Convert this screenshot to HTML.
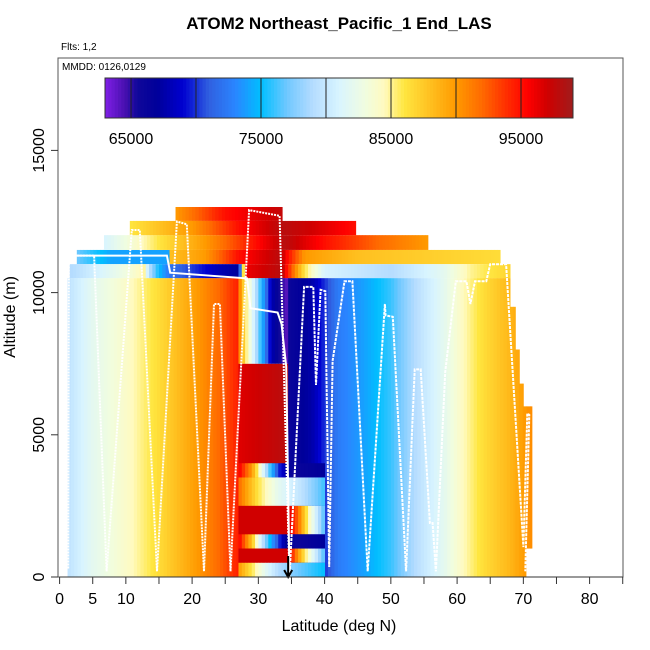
<!DOCTYPE html>
<html><head><meta charset="utf-8"><style>
body{margin:0;background:#fff}
svg{display:block;font-family:"Liberation Sans",sans-serif}
</style></head><body>
<svg id="chart" width="650" height="650" viewBox="0 0 650 650" xmlns="http://www.w3.org/2000/svg">
<rect width="650" height="650" fill="#fff"/>
<text x="339" y="29" text-anchor="middle" font-size="17" font-weight="bold">ATOM2 Northeast_Pacific_1 End_LAS</text>
<text x="61" y="50" font-size="10">Flts: 1,2</text>
<g id="heat"></g>
<g id="tracks"></g>
<rect x="58" y="58" width="565" height="519" fill="none" stroke="#555" stroke-width="1"/>
<text x="62" y="70" font-size="10">MMDD: 0126,0129</text>
<g id="cbar"></g>
<g id="axes"></g>
<text x="339" y="631" text-anchor="middle" font-size="16">Latitude (deg N)</text>
<text transform="translate(15,317) rotate(-90)" text-anchor="middle" font-size="16">Altitude (m)</text>
</svg>
<script>
// colour scale
const paletteVals = [63000,64500,65500,67000,69000,71000,73000,75000,77000,79000,81000,83000,84500,86000,88000,90000,92000,94000,95500,97000,99000];
const paletteCols = ["#7f1fe6","#4a10b0","#10089a","#00009a","#0000d0","#3060e0","#2a85ff","#00bfff","#70c8ff","#b5dcff","#d8f4ff","#f0fde0","#fffabf","#ffe640","#ffc020","#ff9a00","#ff6a00","#ff2a00","#ff0000","#d00000","#a01c1c"];
// x ticks / y ticks
const xTicks = [0,5,10,15,20,25,30,35,40,45,50,55,60,65,70,75,80,85];
const xTickLabels = ["0","5","10","","20","","30","","40","","50","","60","","70","","80",""];
const yTicks = [0,5000,10000,15000];
const cbarLines = [65000,70000,75000,80000,85000,90000,95000];
const cbarLabels = [65000,75000,85000,95000];
// heatmap bands (drawn in order; later overrides)
const bandLat0 = [1.2, 27, 27, 34.5, 68, 68.8, 69.4, 70, 70, 2.6, 6.7, 10.6, 17.5, 1.5, 27, 27, 27, 27, 27, 27, 27];
const bandLat1 = [27, 34.5, 34.5, 68, 68.8, 69.4, 70, 71.3, 70.4, 66.5, 55.6, 44.7, 33.6, 68, 40, 40, 40, 40, 40, 40, 40];
const bandAlt0 = [0, 0, 7500, 0, 0, 0, 0, 1000, 0, 11000, 11500, 12020, 12520, 10510, 3500, 2500, 1500, 1000, 500, 0, 0];
const bandAlt1 = [10510, 7500, 10510, 10510, 9500, 8000, 6800, 6000, 1000, 11500, 12020, 12520, 13010, 11000, 4000, 3500, 2500, 1500, 1000, 500, 0];
const bandKnotLats = [
 [1.2,5,10,15,20,24,27],
 [27,34.5],
 [27,28,29.5,30.5,32,33.5,34.5],
 [34.5,38,40,42,46,50,53,55,58,61,64,68,71],
 [34.5,68,71],[34.5,68,71],[34.5,68,71],[34.5,68,71],[34.5,68,71],
 [2.6,8,16.6,16.7,22,27,33.6,34,37,45,66.5],
 [6.7,15,22,28,34,40,48,55.6],
 [10.6,20,27,33.6,38,44.7],
 [17.5,25,33.6],
 [2,10,13,13.3,15,16.7,24,27,27.5,28,33.6,34,37,40,50,58,62,68],
 [27,29,31,33,35,40],
 [27,30,33,36,40],
 [27,34.5,36,37.5,40],
 [27,29,30.5,32,34,36,40],
 [27,34.5,36,37.5,40],
 [27,29,31,33,36,40],
 [27,40]
];
const bandKnotVals = [
 [79500,82000,84000,86500,89500,92000,94500],
 [96500,98000],
 [92000,86000,80000,75000,68000,65000,64000],
 [66000,67500,70000,72500,74000,76000,78500,80000,82000,84500,86500,88500,90500],
 [66000,88500,90500],[66000,88500,90500],[66000,88500,90500],[66000,88500,90500],[66000,88500,90500],
 [77000,74000,74000,88000,90000,95000,98000,96000,90000,88000,86500],
 [81000,86000,90000,94000,98000,95000,92000,90000],
 [86000,90000,95000,98000,97000,95000],
 [90000,95000,97500],
 [79000,83000,85000,80000,75000,72000,68000,67000,76000,96000,98000,96000,86000,81000,79000,82000,85000,87000],
 [96000,90000,80000,70000,66000,67000],
 [92000,86000,82000,80000,76000],
 [97000,97000,92000,85000,76000],
 [96000,88000,80000,74000,67000,66000,67000],
 [97000,97000,90000,84000,76000],
 [90000,86000,82000,79000,77000,75000],
 [0,0]
];
// flight tracks (lat, altitude in m)
const track1SolidLat = [1.4,16.2,16.7,28.3,28.8,32.9,33.5,34.2,34.7];
const track1SolidAlt = [11300,11300,10700,10500,9450,9300,8900,7400,0];
const track1DotLat = [1.3,1.4,5.2,7.1,10.9,12.1,14.7,17.7,19.2,21.8,23.3,24.2,25.8,28.6,33.2,34.7];
const track1DotAlt = [300,11300,11300,200,12200,12200,200,12500,12400,200,9600,9600,200,12900,12700,0];
const track2Lat = [34.7,36.9,38.3,38.7,39.4,40.1,40.7,41.2,43,44.2,46.5,49.1,49.2,50.3,52.3,53.6,54.5,55.9,56.3,56.8,58.2,59.8,61.4,62,62.7,64.4,65,67.4,70,70.6,70.9,70.3];
const track2Alt = [0,10200,10200,6750,10100,10050,350,7600,10400,10400,200,9600,9200,9150,200,7300,7300,1900,1900,200,7200,10400,10400,9600,10400,10400,11000,11000,1050,5750,5700,200];

const NS="http://www.w3.org/2000/svg";
function X(lat){return 59.6+lat*6.625;}
function Y(alt){return 577-alt*0.02844;}
function CX(v){return 105+(v-63000)*(468/36000);}
function hex(c){return [parseInt(c.slice(1,3),16),parseInt(c.slice(3,5),16),parseInt(c.slice(5,7),16)];}
function color(v){
  if(v<=paletteVals[0])return paletteCols[0];
  for(let i=1;i<paletteVals.length;i++){
    if(v<=paletteVals[i]){
      const t=(v-paletteVals[i-1])/(paletteVals[i]-paletteVals[i-1]);
      const a=hex(paletteCols[i-1]),b=hex(paletteCols[i]);
      return "rgb("+a.map((x,k)=>Math.round(x+(b[k]-x)*t)).join(",")+")";
    }
  }
  return paletteCols[paletteCols.length-1];
}
function interp(ks,vs,x){
  if(x<=ks[0])return vs[0];
  for(let i=1;i<ks.length;i++){if(x<=ks[i]){const t=(x-ks[i-1])/(ks[i]-ks[i-1]);return vs[i-1]+(vs[i]-vs[i-1])*t;}}
  return vs[vs.length-1];
}
function mk(tag,attrs,parent){const e=document.createElementNS(NS,tag);for(const k in attrs)e.setAttribute(k,attrs[k]);parent.appendChild(e);return e;}

// heatmap
const heat=document.getElementById('heat');
for(let b=0;b<bandLat0.length;b++){
  if(bandAlt1[b]<=bandAlt0[b])continue;
  const step=0.5;
  for(let lat=bandLat0[b];lat<bandLat1[b]-1e-6;lat+=step){
    const l1=Math.min(lat+step,bandLat1[b]);
    const v=interp(bandKnotLats[b],bandKnotVals[b],(lat+l1)/2);
    const r=mk('rect',{x:X(lat),y:Y(bandAlt1[b]),width:X(l1)-X(lat)+0.4,height:Y(bandAlt0[b])-Y(bandAlt1[b]),fill:color(v)},heat);
    
    
  }
}
// tracks
const tr=document.getElementById('tracks');
function pts(la,al){return la.map((l,i)=>X(l).toFixed(1)+","+Y(al[i]).toFixed(1)).join(" ");}
const p1=mk('polyline',{points:pts(track1DotLat,track1DotAlt),fill:"none",stroke:"#fff","stroke-width":2,"stroke-dasharray":"2,1"},tr);


const p2=mk('polyline',{points:pts(track1SolidLat,track1SolidAlt),fill:"none",stroke:"#fff","stroke-width":2},tr);


const p3=mk('polyline',{points:pts(track2Lat,track2Alt),fill:"none",stroke:"#fff","stroke-width":2,"stroke-dasharray":"3,1"},tr);


// arrow
const ar=mk('path',{d:"M"+X(34.5)+",556 L"+X(34.5)+",576 M"+(X(34.5)-4)+",570 L"+X(34.5)+",577 L"+(X(34.5)+4)+",570",stroke:"#000","stroke-width":2,fill:"none"},tr);



// colorbar
const cb=document.getElementById('cbar');
for(let v=63000;v<99000;v+=250){
  const r=mk('rect',{x:CX(v),y:78,width:CX(v+250)-CX(v)+0.4,height:40,fill:color(v+125)},cb);
  
  
}
mk('rect',{x:105,y:78,width:468,height:40,fill:"none",stroke:"#333","stroke-width":1},cb);
cbarLines.forEach(v=>{
  const l=mk('line',{x1:CX(v),x2:CX(v),y1:78,y2:118,stroke:"#222","stroke-width":1},cb);
  
  
});
cbarLabels.forEach(v=>{
  const t=mk('text',{x:CX(v),y:144,"text-anchor":"middle","font-size":"16"},cb);
  t.textContent=v;
  
  
});

// axes
const ax=document.getElementById('axes');
mk('line',{x1:X(0),x2:X(85),y1:577,y2:577,stroke:"#333"},ax);
xTicks.forEach((t,i)=>{
  const l=mk('line',{x1:X(t),x2:X(t),y1:577,y2:584,stroke:"#333"},ax);
  
  
  if(xTickLabels[i]){
    const tx=mk('text',{x:X(t),y:604,"text-anchor":"middle","font-size":"16"},ax);
    tx.textContent=xTickLabels[i];
    
    
  }
});
yTicks.forEach(t=>{
  const l=mk('line',{x1:51,x2:58,y1:Y(t),y2:Y(t),stroke:"#333"},ax);
  
  
  const tx=mk('text',{transform:"translate(44,"+Y(t)+") rotate(-90)","text-anchor":"middle","font-size":"16"},ax);
  tx.textContent=t;
  
  
});
</script>
</body></html>
